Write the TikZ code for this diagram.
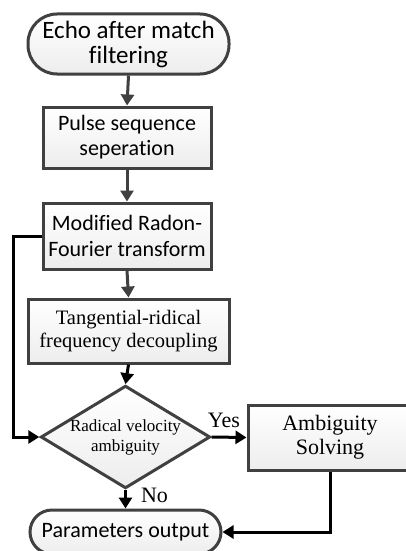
\documentclass[tikz,border=0pt]{standalone}
\usepackage{fontspec}
\setmainfont{Liberation Serif}
\newfontfamily\calib[Ligatures=NoCommon]{Carlito}
\usetikzlibrary{shapes.geometric,arrows.meta}
\definecolor{bordergray}{HTML}{404040}
\definecolor{fillgray}{HTML}{EDEDED}
\begin{document}
\begin{tikzpicture}[x=1pt,y=-1pt,
  base/.style={draw=bordergray,line width=3pt,top color=white,bottom color=fillgray,align=center,inner sep=0pt},
  proc/.style={base,rectangle},
  term/.style={base,rectangle,rounded corners=22pt},
  decision/.style={base,diamond,aspect=1.65},
  grayarrow/.style={draw=bordergray,line width=3pt,-{Triangle[length=11pt,width=13pt]}},
  blackarrow/.style={draw=black,line width=3pt,-{Triangle[length=11pt,width=13pt]}},
  lbl/.style={font=\fontsize{22}{24}\selectfont,inner sep=0pt}
]
\useasboundingbox (0,0) rectangle (406,551);
\clip (0,0) rectangle (406,551);
\fill[white] (0,0) rectangle (406,551);

\node[term,rounded corners=29pt,minimum width=201pt,minimum height=60pt,
  font=\calib\fontsize{25}{25}\selectfont] (echo) at (128.5,44) {Echo after match\\filtering};
\node[proc,minimum width=168pt,minimum height=61pt,
  font=\calib\fontsize{22}{25}\selectfont] (pulse) at (127,137.5) {Pulse sequence\\seperation};
\node[proc,minimum width=168pt,minimum height=66pt,
  font=\calib\fontsize{22}{26}\selectfont] (mrft) at (127,236) {Modified Radon-\\Fourier transform};
\node[proc,minimum width=201pt,minimum height=64pt,
  font=\fontsize{20.5}{23}\selectfont] (trfd) at (128.5,331) {Tangential-ridical\\frequency decoupling};
\node[decision,minimum width=163pt,minimum height=98pt,
  font=\fontsize{17}{20}\selectfont] (dia) at (125.5,437) {Radical velocity\\ambiguity};
\node[proc,minimum width=164pt,minimum height=65pt,
  font=\fontsize{22}{24}\selectfont] (amb) at (330,437.5) {Ambiguity\\Solving};
\node[term,minimum width=191pt,minimum height=44pt,
  font=\calib\fontsize{22}{24}\selectfont] (params) at (125.5,532) {Parameters output};

\coordinate (lcorner1) at (13,236);
\coordinate (lcorner2) at (13,437);
\coordinate (rcorner) at (330,532);

\draw[grayarrow] (echo.south) -- (pulse.north);
\draw[grayarrow] (pulse.south) -- (mrft.north);
\draw[grayarrow] (mrft.south) -- (trfd.north);
\draw[blackarrow] (trfd.south) -- (dia.north);
\draw[blackarrow] (mrft.west) -- (lcorner1) -- (lcorner2) -- (dia.west);
\draw[blackarrow] (dia.east) -- node[lbl,above=8pt,pos=0.35] (yes) {Yes} (amb.west);
\draw[blackarrow] (dia.south) -- node[lbl,right=14pt,pos=0.3] (no) {No} (params.north);
\draw[blackarrow] (amb.south) -- (rcorner) -- (params.east);
\end{tikzpicture}
\end{document}
